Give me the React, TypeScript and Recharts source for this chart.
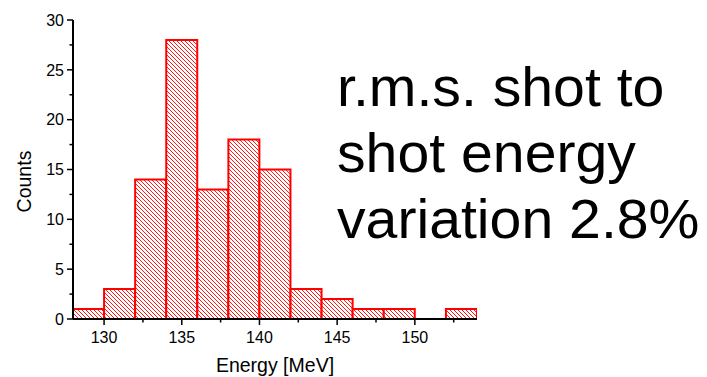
import React from 'react';
import { ComposedChart, Bar, XAxis, YAxis, Label, Customized } from 'recharts';

// Histogram bins (centre of each 2 MeV bin) and the shot counts in each
const binCenters = [129, 131, 133, 135, 137, 139, 141, 143, 145, 147, 149, 151, 153];
const counts = [1, 3, 14, 28, 13, 18, 15, 3, 2, 1, 1, 0, 1];

const xMajorTicks = [130, 135, 140, 145, 150];
const xMinorTicks = [132.5, 137.5, 142.5, 147.5, 152.5];
const yMajorTicks = [0, 5, 10, 15, 20, 25, 30];
const yMinorTicks = [2.5, 7.5, 12.5, 17.5, 22.5, 27.5];

const annotationLines = ['r.m.s. shot to', 'shot energy', 'variation 2.8%'];

const data = binCenters.map((energy, i) => ({ energy, count: counts[i] }));

const FONT = '"Liberation Sans", Arial, Helvetica, sans-serif';
const RED = '#ff0000';

const xTicks = [...xMajorTicks, ...xMinorTicks].sort((a, b) => a - b);
const yTicks = [...yMajorTicks, ...yMinorTicks].sort((a, b) => a - b);

const XTick = (props: any) => {
  const { x, y, payload } = props;
  const major = xMajorTicks.includes(payload.value);
  return (
    <g>
      <line x1={x} x2={x} y1={y} y2={y + (major ? 6 : 3.5)} stroke="#000" strokeWidth={1.5} />
      {major && (
        <text x={x} y={y + 24} textAnchor="middle" fontFamily={FONT} fontSize={16} fill="#000">
          {payload.value}
        </text>
      )}
    </g>
  );
};

const YTick = (props: any) => {
  const { x, y, payload } = props;
  const major = yMajorTicks.includes(payload.value);
  return (
    <g>
      <line x1={x} x2={x - (major ? 6 : 3.5)} y1={y} y2={y} stroke="#000" strokeWidth={1.5} />
      {major && (
        <text x={x - 9} y={y + 5.7} textAnchor="end" fontFamily={FONT} fontSize={16} fill="#000">
          {payload.value}
        </text>
      )}
    </g>
  );
};

const CountsLabel = (props: any) => {
  const { viewBox } = props;
  const cx = 31;
  const cy = viewBox.y + viewBox.height / 2 + 12;
  return (
    <text
      x={cx}
      y={cy}
      transform={`rotate(-90, ${cx}, ${cy})`}
      textAnchor="middle"
      fontFamily={FONT}
      fontSize={19.5}
      fill="#000"
    >
      Counts
    </text>
  );
};

// Large annotation to the right of the plot, slightly widened lettering
const Annotation = () => (
  <g transform="translate(337, 0) scale(1.04, 1)">
    {annotationLines.map((line, i) => (
      <text key={i} x={0} y={106 + i * 66} fontFamily={FONT} fontSize={55} fill="#000">
        {line}
      </text>
    ))}
  </g>
);

export default function App() {
  return (
    <div style={{ position: 'absolute', left: 0, top: 0, width: 707, height: 377, background: '#fff' }}>
      <ComposedChart
        width={707}
        height={377}
        data={data}
        margin={{ top: 20, right: 230, bottom: 0, left: 0 }}
        barCategoryGap={0}
        barGap={0}
      >
        <defs>
          <pattern id="hatch" patternUnits="userSpaceOnUse" width={4} height={4}>
            <rect width={4} height={4} fill="#fff" />
            <path d="M-1,-1 L5,5 M-1,3 L1,5 M3,-1 L5,1" stroke={RED} strokeWidth={0.9} />
          </pattern>
        </defs>
        <XAxis
          dataKey="energy"
          type="number"
          domain={[128, 154]}
          ticks={xTicks}
          interval={0}
          height={58}
          tickSize={0}
          tickMargin={0}
          tickLine={false}
          tick={<XTick />}
          axisLine={{ stroke: '#000', strokeWidth: 2 }}
          allowDataOverflow
        >
          <Label
            value="Energy [MeV]"
            position="insideBottom"
            offset={5}
            style={{ fontFamily: FONT, fontSize: 19.5, fill: '#000' }}
          />
        </XAxis>
        <YAxis
          type="number"
          domain={[0, 30]}
          ticks={yTicks}
          interval={0}
          width={73}
          tickSize={0}
          tickMargin={0}
          tickLine={false}
          tick={<YTick />}
          axisLine={{ stroke: '#000', strokeWidth: 2 }}
          allowDataOverflow
        >
          <Label content={<CountsLabel />} />
        </YAxis>
        <Bar
          dataKey="count"
          fill="url(#hatch)"
          stroke={RED}
          strokeWidth={2}
          isAnimationActive={false}
        />
        <Customized component={Annotation} />
      </ComposedChart>
    </div>
  );
}
